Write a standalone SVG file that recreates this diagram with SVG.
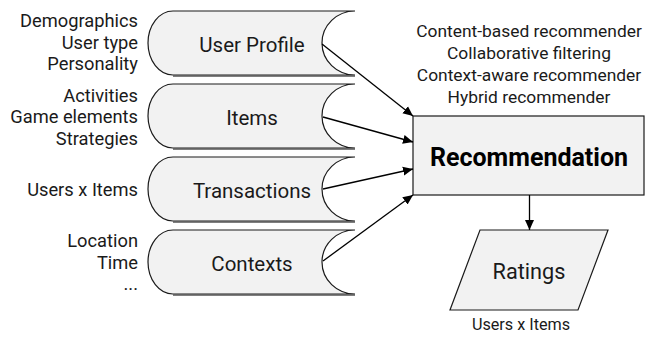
<svg xmlns="http://www.w3.org/2000/svg" width="649" height="337" viewBox="0 0 649 337">
<defs>
<style>
text{font-family:Roboto,"Open Sans","DejaVu Sans",sans-serif;fill:#1a1a1a}
.lbl{font-size:20.5px;text-anchor:middle}
.side{font-size:18.3px;text-anchor:end}
.algo{font-size:17.4px;text-anchor:middle}
.shape{fill:#f2f2f2;stroke:#1a1a1a;stroke-width:1.2}
.shadow{stroke:#555;stroke-width:1.5;fill:none}
.conn{stroke:#000;stroke-width:1.3;fill:none;marker-end:url(#arr)}
</style>
<marker id="arr" viewBox="0 0 10 10" refX="10" refY="5" markerWidth="10" markerHeight="10" markerUnits="userSpaceOnUse" orient="auto">
<path d="M0,0.5 L10,5 L0,9.5 Z" fill="#000"/>
</marker>
</defs>

<g id="user-profile">
<path class="shape" d="M173,11 L355,11 A33,32 0 0 0 355,75 L173,75 A25,32 0 0 1 173,11 Z"/>
<line class="shadow" x1="173" y1="76" x2="355" y2="76"/>
<text class="lbl" x="252" y="51.5">User Profile</text>
<text class="side" x="138" y="27.3">Demographics</text>
<text class="side" x="138" y="48.8">User type</text>
<text class="side" x="138" y="70.3">Personality</text>
</g>

<g id="items">
<path class="shape" d="M173,84 L355,84 A33,32 0 0 0 355,148 L173,148 A25,32 0 0 1 173,84 Z"/>
<line class="shadow" x1="173" y1="149" x2="355" y2="149"/>
<text class="lbl" x="252" y="124.5">Items</text>
<text class="side" x="138" y="101.7">Activities</text>
<text class="side" x="138" y="123.2">Game elements</text>
<text class="side" x="138" y="144.7">Strategies</text>
</g>

<g id="transactions">
<path class="shape" d="M173,157 L355,157 A33,32 0 0 0 355,221 L173,221 A25,32 0 0 1 173,157 Z"/>
<line class="shadow" x1="173" y1="222" x2="355" y2="222"/>
<text class="lbl" x="252" y="197.5">Transactions</text>
<text class="side" x="138" y="196">Users x Items</text>
</g>

<g id="contexts">
<path class="shape" d="M173,230 L355,230 A33,32 0 0 0 355,294 L173,294 A25,32 0 0 1 173,230 Z"/>
<line class="shadow" x1="173" y1="295" x2="355" y2="295"/>
<text class="lbl" x="252" y="270.5">Contexts</text>
<text class="side" x="138" y="247.3">Location</text>
<text class="side" x="138" y="268.8">Time</text>
<text class="side" x="138" y="290.3">...</text>
</g>

<g id="recommendation">
<rect class="shape" x="413" y="116" width="231" height="79"/>
<text x="529" y="166" style="font-size:25px;font-weight:bold;text-anchor:middle;fill:#000">Recommendation</text>
<text class="algo" x="529" y="37">Content-based recommender</text>
<text class="algo" x="529" y="59">Collaborative filtering</text>
<text class="algo" x="529" y="81">Context-aware recommender</text>
<text class="algo" x="529" y="103">Hybrid recommender</text>
</g>

<g id="ratings">
<path class="shape" d="M480,230 L608,230 L578,310 L450,310 Z"/>
<text x="529" y="279" style="font-size:21.7px;text-anchor:middle">Ratings</text>
<text x="521" y="330" style="font-size:16.2px;text-anchor:middle">Users x Items</text>
</g>

<g id="connectors">
<line class="conn" x1="322" y1="44" x2="413" y2="116"/>
<line class="conn" x1="323" y1="117" x2="413" y2="142"/>
<line class="conn" x1="323" y1="189" x2="413" y2="169"/>
<line class="conn" x1="323" y1="261" x2="413" y2="195"/>
<line class="conn" x1="529.5" y1="195" x2="529.5" y2="230"/>
</g>
</svg>
